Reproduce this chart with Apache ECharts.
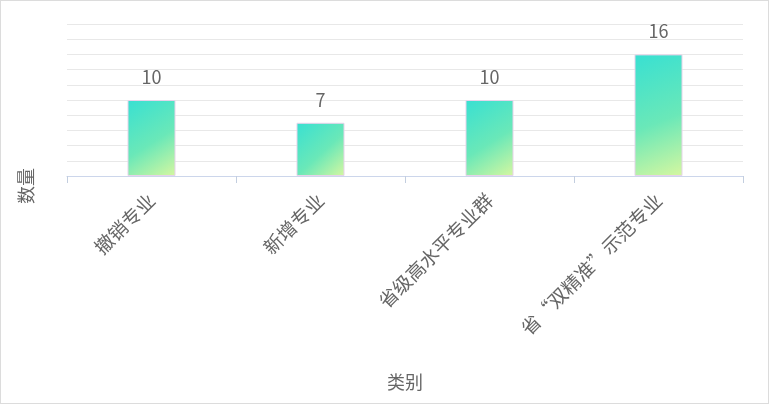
<!DOCTYPE html>
<html lang="zh">

<head>
  <meta charset="UTF-8">
  <title>专业数量</title>
  <script src="https://cdn.jsdelivr.net/npm/echarts@6/dist/echarts.min.js"></script>
  <style>
    html, body {
      margin: 0;
      padding: 0;
      background: #fff;
    }
    #main {
      width: 769px;
      height: 404px;
      box-sizing: border-box;
      border: 1px solid #dcdcdc;
    }
  </style>
</head>

<body>
  <div id="main"></div>
  <script>
    // 数据
    const categories = ['撤销专业', '新增专业', '省级高水平专业群', '省“双精准”示范专业']
    const counts = [10, 7, 10, 16]
    const yMin = 0
    const yMax = 20
    const yStep = 2

    const font = '"Microsoft YaHei", "Noto Sans CJK SC", sans-serif'

    let myChart = echarts.init(document.querySelector('#main'))

    let option = {
      animation: false,
      grid: {
        left: 66,
        right: 25,
        top: 23,
        bottom: 227
      },
      graphic: [
        {
          type: 'text',
          x: 25,
          y: 185,
          rotation: Math.PI / 2,
          style: {
            text: '数量',
            fill: '#666',
            font: '18px ' + font,
            align: 'center',
            verticalAlign: 'middle'
          }
        }
      ],
      xAxis: {
        type: 'category',
        data: categories,
        name: '类别',
        nameLocation: 'middle',
        nameGap: 197,
        nameTextStyle: { color: '#666', fontSize: 18, fontFamily: font },
        axisLine: { lineStyle: { color: '#ccd6eb' } },
        axisTick: { show: true, length: 7, lineStyle: { color: '#c3cedf' } },
        axisLabel: {
          rotate: 45,
          margin: 21,
          color: '#666',
          fontSize: 19,
          fontFamily: font,
          interval: 0
        }
      },
      yAxis: {
        type: 'value',
        min: yMin,
        max: yMax,
        interval: yStep,
        axisLine: { show: false },
        axisTick: { show: false },
        axisLabel: { show: false },
        splitLine: { lineStyle: { color: '#e8e8e8' } }
      },
      series: [
        {
          type: 'bar',
          data: counts,
          barWidth: 48,
          label: {
            show: true,
            position: 'top',
            distance: 14,
            color: '#666',
            fontSize: 18,
            fontFamily: font
          },
          itemStyle: {
            borderColor: '#e6d3ea',
            borderWidth: 1,
            color: new echarts.graphic.LinearGradient(0, 0, 1, 1, [
              { offset: 0, color: '#38e0d2' },
              { offset: 0.55, color: '#6ae8b8' },
              { offset: 1, color: '#d6f7a0' }
            ])
          }
        }
      ]
    }

    myChart.setOption(option)
  </script>
</body>

</html>
